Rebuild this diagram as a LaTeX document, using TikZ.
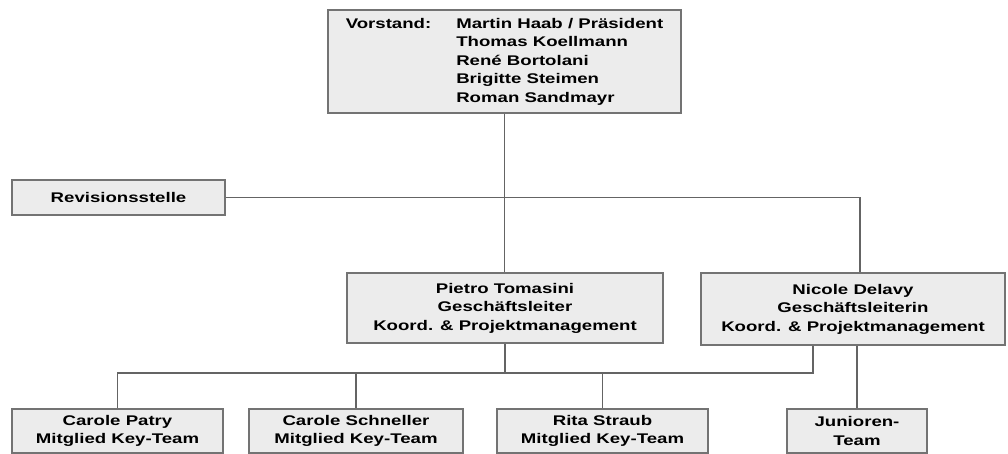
\documentclass[tikz,border=0pt]{standalone}
\usepackage{fontspec}
\newfontfamily\orgfont{Liberation Sans}[FakeStretch=1.33]
\definecolor{boxfill}{RGB}{236,236,236}
\definecolor{boxline}{RGB}{115,115,115}
\definecolor{conn}{RGB}{100,100,100}
\begin{document}
\begin{tikzpicture}[x=1pt,y=-1pt,
  orgbox/.style={draw=boxline, fill=boxfill, line width=1.5pt, inner sep=0pt,
    align=center, text=black, font=\orgfont\bfseries\fontsize{14}{18.5}\selectfont},
  link/.style={draw=conn, line width=1.5pt}]
\useasboundingbox (0,0) rectangle (1008,454);
\coordinate (bus) at (0,373);

\node[orgbox, minimum width=353pt, minimum height=103pt] (vorstand) at (504.5,61.5)
  {\begin{tabular}{@{}l@{\hspace{25pt}}l@{}}
   Vorstand: & Martin Haab / Präsident\\
             & Thomas Koellmann\\
             & René Bortolani\\
             & Brigitte Steimen\\
             & Roman Sandmayr
   \end{tabular}};

\node[orgbox, minimum width=213pt, minimum height=35pt] (revision) at (118.5,197.5) {Revisionsstelle};

\node[orgbox, minimum width=316pt, minimum height=70pt] (pietro) at (505,308)
  {Pietro Tomasini\\Geschäftsleiter\\Koord. \& Projektmanagement};
\node[orgbox, minimum width=304pt, minimum height=72pt] (nicole) at (853,309)
  {Nicole Delavy\\Geschäftsleiterin\\Koord. \& Projektmanagement};

\node[orgbox, minimum width=211pt, minimum height=44pt] (patry) at (117.5,431)
  {Carole Patry\\Mitglied Key-Team};
\node[orgbox, minimum width=214pt, minimum height=44pt] (schneller) at (356,431)
  {Carole Schneller\\Mitglied Key-Team};
\node[orgbox, minimum width=211pt, minimum height=44pt] (rita) at (602.5,431)
  {Rita Straub\\Mitglied Key-Team};
\node[orgbox, minimum width=140pt, minimum height=44pt] (junior) at (857,431)
  {Junioren-\\Team};

\draw[link] (vorstand.south) -- (vorstand.south |- pietro.north);
\draw[link] (revision.east) -| ([xshift=7pt]nicole.north);
\draw[link] (pietro.south) -- (pietro.south |- bus);
\draw[link] ([xshift=-40pt]nicole.south) |- (patry.north |- bus) -- (patry.north);
\draw[link] (schneller.north |- bus) -- (schneller.north);
\draw[link] (rita.north |- bus) -- (rita.north);
\draw[link] (junior.north |- nicole.south) -- (junior.north);
\end{tikzpicture}
\end{document}
